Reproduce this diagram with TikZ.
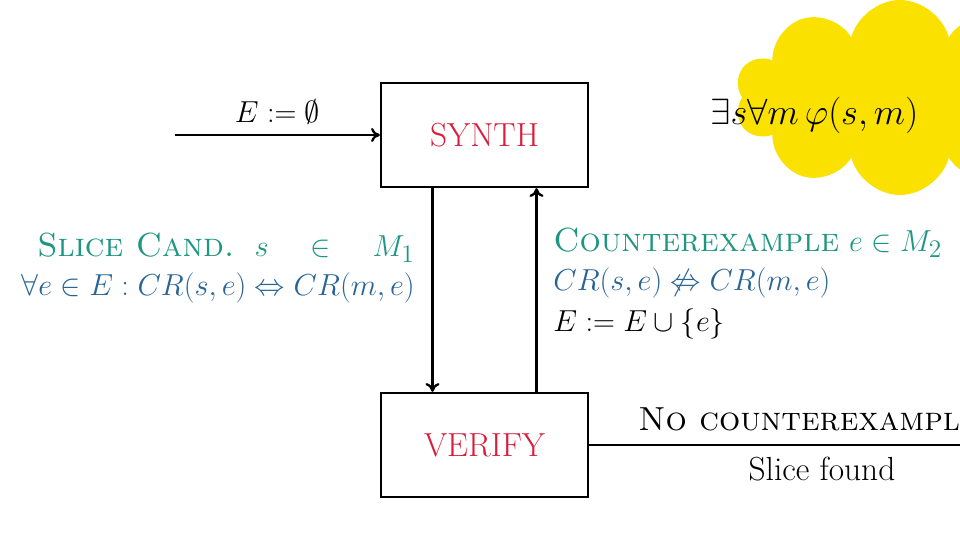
\documentclass[tikz,border=0pt]{standalone}
\usepackage{amsmath}
\usepackage{amssymb}
\usepackage{xcolor}
\usetikzlibrary{positioning}
\usetikzlibrary{shapes.symbols}
\usetikzlibrary{arrows.meta}
\definecolor{mteal}{RGB}{30,150,130}
\definecolor{mblue}{RGB}{40,100,150}
\definecolor{mred}{RGB}{215,30,60}
\definecolor{myellow}{RGB}{250,225,0}

\begin{document}
\begin{tikzpicture}[font=\fontsize{19}{24}\selectfont,
    state/.style={draw, line width=1.3pt, minimum width=4.14cm, minimum height=2.08cm, text=mred},
    arrow/.style={-{To[length=5pt,width=8pt]}, line width=1.3pt},
    lbl/.style={inner sep=0pt},
]
\useasboundingbox (0,0) rectangle (19.2,-10.8);
\clip (0,0) rectangle (19.2,-10.8);

\node[cloud, cloud puffs=10, fill=myellow, minimum width=6.6cm, minimum height=3.9cm, aspect=1.7] (goal) at (18.0,-1.95) {};
\node[anchor=west, lbl, font=\fontsize{21}{26}\selectfont] (formula) at (14.2,-2.3) {$\exists s\forall m\,\varphi(s,m)$};

\node[state] (synth) at (9.69,-2.7) {SYNTH};
\node[state] (verify) at (9.69,-8.9) {VERIFY};
\coordinate (start) at (3.5,-2.7);
\coordinate (done) at (21.1,-8.9);

\draw[arrow] (start) -- node[above, yshift=2pt] {$E := \emptyset$} (synth);
\draw[arrow] ([xshift=-1.04cm]synth.south) -- ([xshift=-1.04cm]verify.north);
\draw[arrow] ([xshift=1.04cm]verify.north) -- ([xshift=1.04cm]synth.south);
\draw[line width=1.3pt] (verify) -- (done);
\node[lbl, anchor=base west] (nocex) at (12.76,-8.6) {\textsc{No counterexample}};
\node[lbl, anchor=base] (found) at (16.44,-9.6) {Slice found};

% edge labels
\node[lbl, anchor=east, text=mteal] (cand) at (8.3,-4.95) {\textsc{Slice Cand.}\ \ $s \quad\in\quad M_1$};
\node[lbl, anchor=north east, text=mblue, yshift=-0.2cm] (cond) at (cand.south east) {$\forall e \in E : CR(s,e) \Leftrightarrow CR(m,e)$};
\node[lbl, anchor=west, text=mteal] (cex) at (11.06,-4.85) {\textsc{Counterexample} $e \in M_2$};
\node[lbl, anchor=north west, text=mblue, yshift=-0.2cm] (ncond) at (cex.south west) {$CR(s,e) \not\Leftrightarrow CR(m,e)$};
\node[lbl, anchor=north west, yshift=-0.2cm] (update) at (ncond.south west) {$E := E \cup \{e\}$};
\end{tikzpicture}
\end{document}
